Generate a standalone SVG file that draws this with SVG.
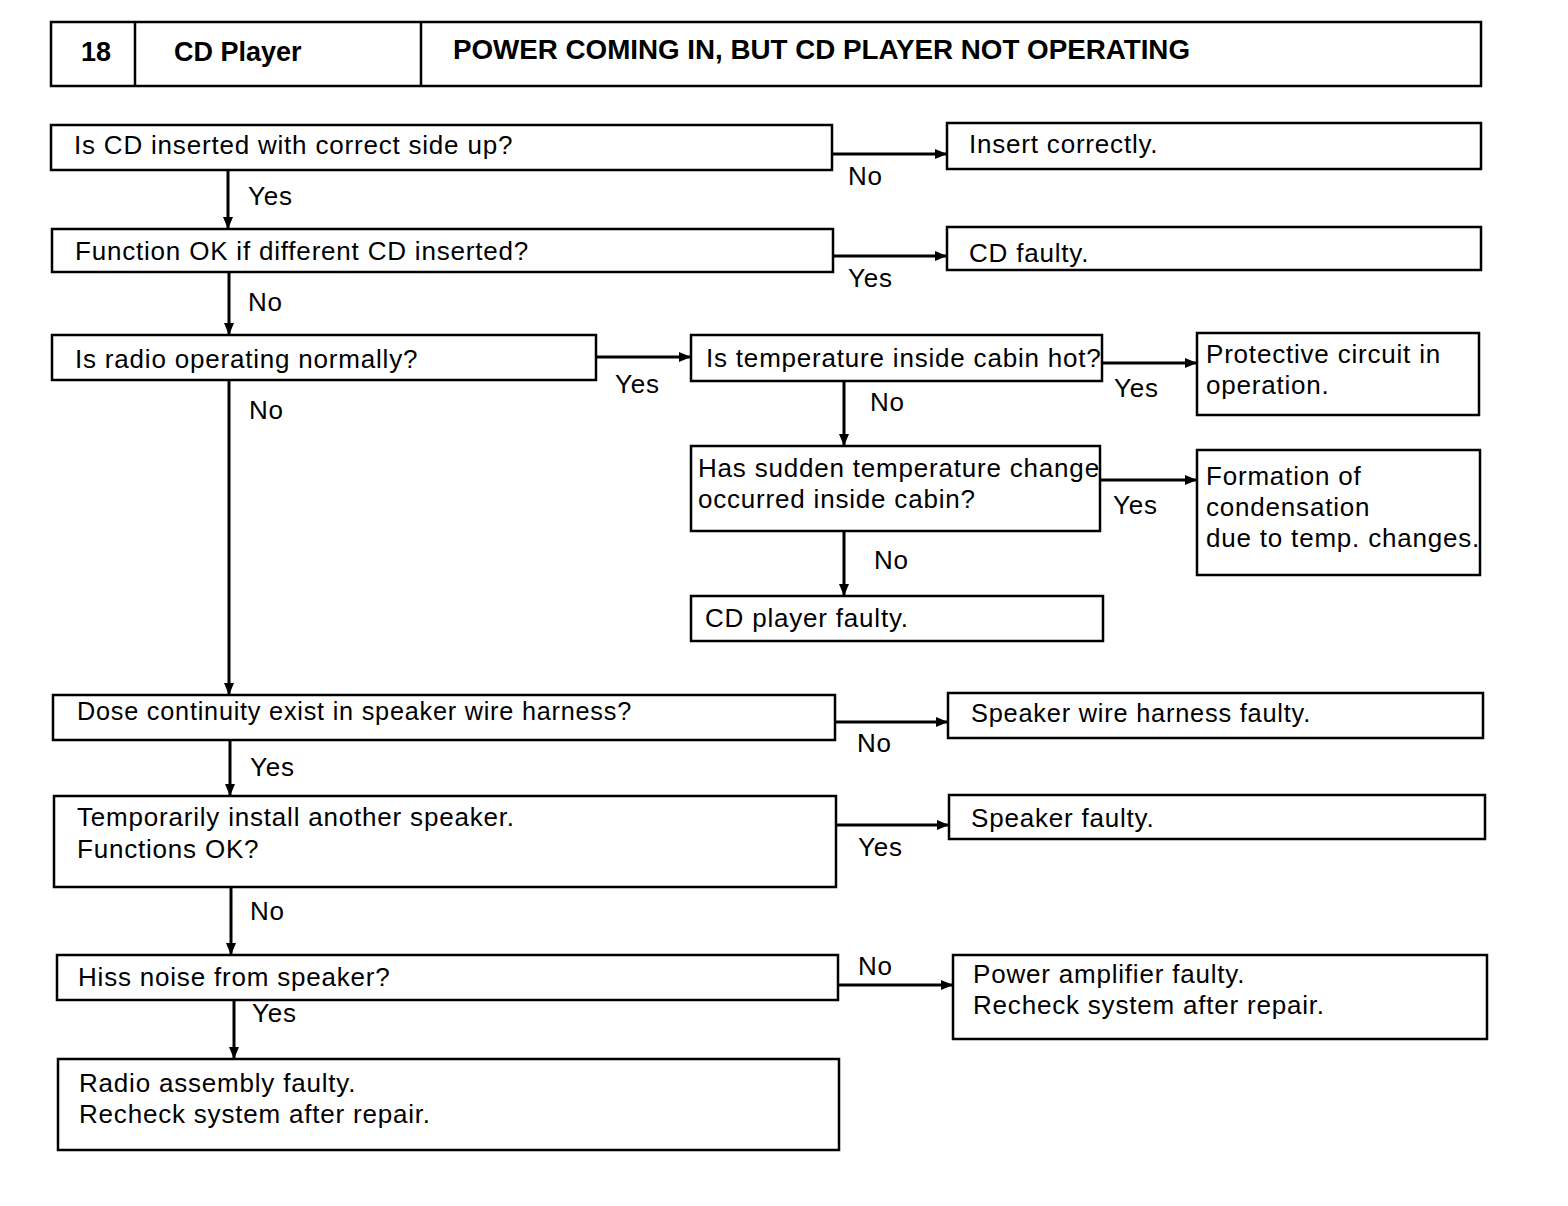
<svg xmlns="http://www.w3.org/2000/svg" width="1568" height="1206" viewBox="0 0 1568 1206">
<style>
.b{fill:#fff;stroke:#000;stroke-width:2.5}
.t{font-family:"Liberation Sans",Arial,sans-serif;font-size:26px;letter-spacing:0.8px;fill:#000}
.h{font-family:"Liberation Sans",Arial,sans-serif;font-size:27px;font-weight:bold;fill:#000}
.c{stroke:#000;stroke-width:3;fill:none;marker-end:url(#ah)}
</style>
<defs>
<marker id="ah" viewBox="0 0 12 10" refX="12" refY="5" markerWidth="12" markerHeight="10" markerUnits="userSpaceOnUse" orient="auto">
<path d="M0,0 L12,5 L0,10 Z" fill="#000"/>
</marker>
</defs>
<rect width="1568" height="1206" fill="#fff"/>
<g id="header">
<rect class="b" x="51" y="22" width="1430" height="64" stroke-width="3"/>
<line x1="135" y1="22" x2="135" y2="86" stroke="#000" stroke-width="2.5"/>
<line x1="421" y1="22" x2="421" y2="86" stroke="#000" stroke-width="2.5"/>
<text class="h" x="81" y="61">18</text>
<text class="h" x="174" y="61">CD Player</text>
<text class="h" x="453" y="59" textLength="737" lengthAdjust="spacingAndGlyphs">POWER COMING IN, BUT CD PLAYER NOT OPERATING</text>
</g>
<g id="connectors">
<line class="c" x1="832" y1="154" x2="947" y2="154"/>
<line class="c" x1="228" y1="170" x2="228" y2="229"/>
<line class="c" x1="833" y1="256" x2="947" y2="256"/>
<line class="c" x1="229" y1="272" x2="229" y2="335"/>
<line class="c" x1="596" y1="357" x2="691" y2="357"/>
<line class="c" x1="1102" y1="363" x2="1197" y2="363"/>
<line class="c" x1="844" y1="381" x2="844" y2="446"/>
<line class="c" x1="1100" y1="480" x2="1197" y2="480"/>
<line class="c" x1="844" y1="531" x2="844" y2="596"/>
<line class="c" x1="229" y1="380" x2="229" y2="695"/>
<line class="c" x1="835" y1="722" x2="948" y2="722"/>
<line class="c" x1="230" y1="740" x2="230" y2="796"/>
<line class="c" x1="836" y1="825" x2="949" y2="825"/>
<line class="c" x1="231" y1="887" x2="231" y2="955"/>
<line class="c" x1="838" y1="985" x2="953" y2="985"/>
<line class="c" x1="234" y1="1000" x2="234" y2="1059"/>
<text class="t" x="848" y="185">No</text>
<text class="t" x="248" y="205">Yes</text>
<text class="t" x="848" y="287">Yes</text>
<text class="t" x="248" y="311">No</text>
<text class="t" x="615" y="393">Yes</text>
<text class="t" x="1114" y="397">Yes</text>
<text class="t" x="870" y="411">No</text>
<text class="t" x="1113" y="514">Yes</text>
<text class="t" x="874" y="569">No</text>
<text class="t" x="249" y="419">No</text>
<text class="t" x="857" y="752">No</text>
<text class="t" x="250" y="776">Yes</text>
<text class="t" x="858" y="856">Yes</text>
<text class="t" x="250" y="920">No</text>
<text class="t" x="858" y="975">No</text>
<text class="t" x="252" y="1022">Yes</text>
</g>
<g id="n1"><rect class="b" x="51" y="125" width="781" height="45"/><text class="t" x="74" y="154">Is CD inserted with correct side up?</text></g>
<g id="n1a"><rect class="b" x="947" y="123" width="534" height="46"/><text class="t" x="969" y="153">Insert correctly.</text></g>
<g id="n2"><rect class="b" x="52" y="229" width="781" height="43"/><text class="t" x="75" y="260">Function OK if different CD inserted?</text></g>
<g id="n2a"><rect class="b" x="947" y="227" width="534" height="43"/><text class="t" x="969" y="262">CD faulty.</text></g>
<g id="n3"><rect class="b" x="52" y="335" width="544" height="45"/><text class="t" x="75" y="368">Is radio operating normally?</text></g>
<g id="n4"><rect class="b" x="691" y="335" width="411" height="46"/><text class="t" x="706" y="367">Is temperature inside cabin hot?</text></g>
<g id="n4a"><rect class="b" x="1197" y="333" width="282" height="82"/><text class="t" x="1206" y="363">Protective circuit in</text><text class="t" x="1206" y="394">operation.</text></g>
<g id="n5"><rect class="b" x="691" y="446" width="409" height="85"/><text class="t" x="698" y="477">Has sudden temperature change</text><text class="t" x="698" y="508">occurred inside cabin?</text></g>
<g id="n5a"><rect class="b" x="1197" y="450" width="283" height="125"/><text class="t" x="1206" y="485">Formation of</text><text class="t" x="1206" y="516">condensation</text><text class="t" x="1206" y="547">due to temp. changes.</text></g>
<g id="n5b"><rect class="b" x="691" y="596" width="412" height="45"/><text class="t" x="705" y="627">CD player faulty.</text></g>
<g id="n6"><rect class="b" x="53" y="695" width="782" height="45"/><text class="t" x="77" y="720" textLength="555" lengthAdjust="spacingAndGlyphs">Dose continuity exist in speaker wire harness?</text></g>
<g id="n6a"><rect class="b" x="948" y="693" width="535" height="45"/><text class="t" x="971" y="722" textLength="340" lengthAdjust="spacingAndGlyphs">Speaker wire harness faulty.</text></g>
<g id="n7"><rect class="b" x="54" y="796" width="782" height="91"/><text class="t" x="77" y="826">Temporarily install another speaker.</text><text class="t" x="77" y="858">Functions OK?</text></g>
<g id="n7a"><rect class="b" x="949" y="795" width="536" height="44"/><text class="t" x="971" y="827">Speaker faulty.</text></g>
<g id="n8"><rect class="b" x="57" y="955" width="781" height="45"/><text class="t" x="78" y="986">Hiss noise from speaker?</text></g>
<g id="n8a"><rect class="b" x="953" y="955" width="534" height="84"/><text class="t" x="973" y="983">Power amplifier faulty.</text><text class="t" x="973" y="1014">Recheck system after repair.</text></g>
<g id="n9"><rect class="b" x="58" y="1059" width="781" height="91"/><text class="t" x="79" y="1092">Radio assembly faulty.</text><text class="t" x="79" y="1123">Recheck system after repair.</text></g>
</svg>
